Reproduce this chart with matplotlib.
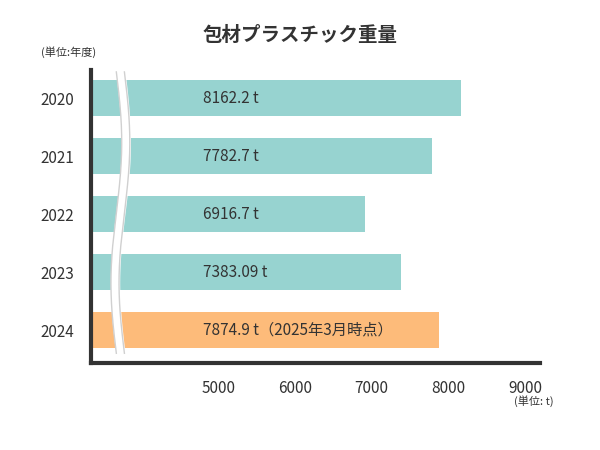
import numpy as np
import matplotlib.pyplot as plt
import matplotlib.transforms as mtransforms

plt.rcParams['font.family'] = 'Noto Sans CJK JP'

years = ['2020', '2021', '2022', '2023', '2024']
values = [8162.2, 7782.7, 6916.7, 7383.09, 7874.9]
labels = ['8162.2 t', '7782.7 t', '6916.7 t', '7383.09 t', '7874.9 t（2025年3月時点）']
colors = ['#97d3d0', '#97d3d0', '#97d3d0', '#97d3d0', '#fdbb7a']
xticks = [5000, 6000, 7000, 8000, 9000]

fig = plt.figure(figsize=(6, 4.5), dpi=100)
ax = fig.add_axes([0.152, 0.193, 0.748, 0.651])
xmin = 3345
ax.barh(range(len(years)), [v - xmin for v in values], left=xmin, height=0.62, color=colors)
ax.set_xlim(xmin, 9195)
ax.set_ylim(4.57, -0.48)
ax.set_yticks(range(len(years)))
ax.set_yticklabels(years, fontsize=11, color='#333')
ax.set_xticks(xticks)
ax.set_xticklabels([str(t) for t in xticks], fontsize=11, color='#333')
ax.tick_params(length=0, pad=12)
for s in ['top', 'right']:
    ax.spines[s].set_visible(False)
for s in ['left', 'bottom']:
    ax.spines[s].set_linewidth(3)
    ax.spines[s].set_color('#333')

trans = mtransforms.blended_transform_factory(ax.transAxes, ax.transData)
for i, lab in enumerate(labels):
    ax.text(0.249, i, lab, transform=trans, va='center', ha='left', fontsize=11, color='#333')

# axis break wave
yy = np.linspace(-0.45, 4.4, 300)
xc = 0.065 + 0.012 * np.sin((yy + 0.45) / 4.85 * 2 * np.pi)
w = 0.009
ax.fill_betweenx(yy, xc - w, xc + w, transform=trans, color='white', zorder=3)
ax.plot(xc - w, yy, transform=trans, color='#d0d0d0', lw=1, zorder=4)
ax.plot(xc + w, yy, transform=trans, color='#d0d0d0', lw=1, zorder=4)

fig.text(0.5, 0.922, '包材プラスチック重量', ha='center', va='center', fontsize=14, fontweight='bold', color='#333')
fig.text(0.068, 0.884, '(単位:年度)', ha='left', va='center', fontsize=8, color='#333')
fig.text(0.922, 0.108, '(単位: t)', ha='right', va='center', fontsize=8, color='#333')

fig.savefig('out.png')
